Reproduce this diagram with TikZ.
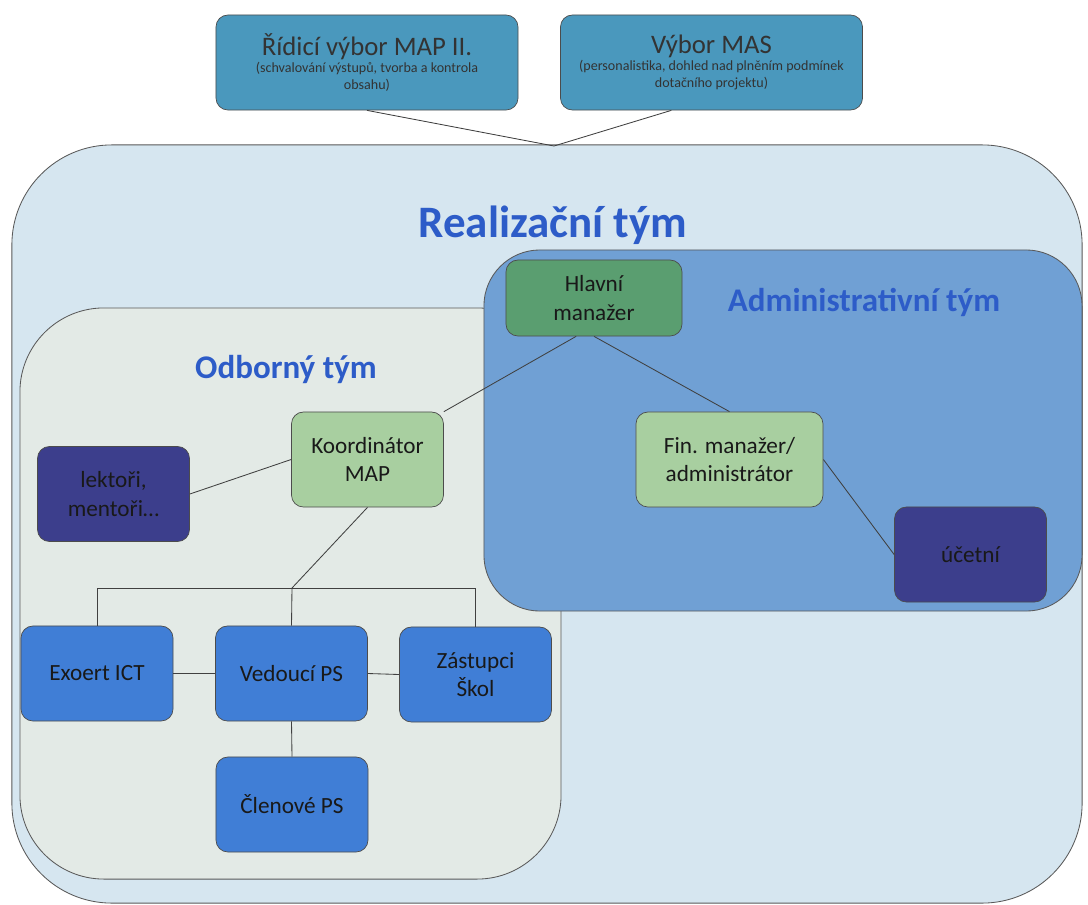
\documentclass[tikz,border=0pt]{standalone}
\usepackage{fontspec}
\setmainfont{Carlito}
\usepackage{tikz}
\definecolor{mapTeal}{RGB}{74,152,189}
\definecolor{mapGreen}{RGB}{90,158,112}
\definecolor{mapLight}{RGB}{168,207,160}
\definecolor{mapPurple}{RGB}{60,62,140}
\definecolor{mapBlue}{RGB}{64,126,214}
\definecolor{mapTitle}{RGB}{45,92,200}
\definecolor{realFill}{RGB}{214,230,240}
\definecolor{odbFill}{RGB}{227,234,230}
\definecolor{adminFill}{RGB}{112,160,212}
\usetikzlibrary{shapes, backgrounds, positioning}
\tikzstyle{teamBox} = [draw=black!65, line width=0.6pt]
\tikzstyle{teamTitle} = [anchor=base, text=mapTitle, font=\bfseries\fontsize{23.5}{27}\selectfont]
\tikzstyle{mapBox} = [draw=black!70, line width=0.5pt, rounded corners=0.3cm, minimum width=3.8cm, minimum height=2.375cm, align=center, text=black!90, font=\fontsize{16.5}{20}\selectfont]
\tikzstyle{topBox} = [mapBox, fill=mapTeal, minimum width=7.55cm, text=black!80, font=\fontsize{10}{12}\selectfont]
\tikzstyle{link} = [draw=black!75, line width=0.6pt]

\begin{document}
\begin{tikzpicture}[x=0.025cm, y=-0.025cm]
        \useasboundingbox (0,0) rectangle (1088,904);
        % Teams
        \node [teamBox, fill=realFill, rounded corners=2.5cm, minimum width=26.75cm, minimum height=18.95cm] (real) at (547,524) {};
        \node [teamBox, fill=odbFill, rounded corners=2.1cm, minimum width=13.525cm, minimum height=14.275cm] (odb) at (290.5,593.5) {};
        \node [teamBox, fill=adminFill, rounded corners=1.4cm, minimum width=14.95cm, minimum height=9.025cm] (admin) at (783,430.5) {};

        \node [teamTitle, font=\bfseries\fontsize{32}{36}\selectfont] (realT) at (553,237) {Realizační tým};
        \node [teamTitle] (odbT) at (286,378) {Odborný tým};
        \node [teamTitle] (adminT) at (864,311) {Administrativní tým};

        % Nodes
        \node [topBox] (rid) at (367,62.5) {{\fontsize{19}{23}\selectfont Řídicí výbor MAP II.}\\(schvalování výstupů, tvorba a kontrola\\obsahu)};
        \node [topBox] (mas) at (711.5,62.5) {{\fontsize{19}{23}\selectfont Výbor MAS}\\(personalistika, dohled nad plněním podmínek\\dotačního projektu)};

        \node [mapBox, fill=mapGreen, minimum width=4.4cm, minimum height=1.9cm] (hlavni) at (594,298) {Hlavní\\manažer};
        \node [mapBox, fill=mapLight] (koord) at (367.5,459.5) {Koordinátor\\MAP};
        \node [mapBox, fill=mapPurple] (lektori) at (113.5,494) {lektoři,\\mentoři…};
        \node [mapBox, fill=mapLight, minimum width=4.675cm] (fin) at (729.5,459.5) {Fin. manažer/\\administrátor};
        \node [mapBox, fill=mapPurple] (ucetni) at (970.5,554.5) {účetní};

        \node [mapBox, fill=mapBlue] (expert) at (97,673.5) {Exoert ICT};
        \node [mapBox, fill=mapBlue] (vedouci) at (291.5,673.5) {Vedoucí PS};
        \node [mapBox, fill=mapBlue] (zastupci) at (475.5,674.5) {Zástupci\\Škol};
        \node [mapBox, fill=mapBlue] (clenove) at (292,804.5) {Členové PS};

        \coordinate (apex) at (554,146);
        \coordinate (bus) at (292,588);

        % Lines
        \draw [link] (rid.south) -- (apex) -- (mas.-130);
        \draw [link] (hlavni.-115) -- (koord.north east);
        \draw [link] (hlavni.south) -- (fin.north);
        \draw [link] (fin.east) -- (ucetni.west);
        \draw [link] (lektori.east) -- (koord.west);
        \draw [link] (koord.south) -- (bus) -- (vedouci.north);
        \draw [link] (expert.north) |- (bus) -| (zastupci.north);
        \draw [link] (expert.east) -- (vedouci.west);
        \draw [link] (vedouci.east) -- (zastupci.west);
        \draw [link] (vedouci.south) -- (clenove.north);
    \end{tikzpicture}
\end{document}
